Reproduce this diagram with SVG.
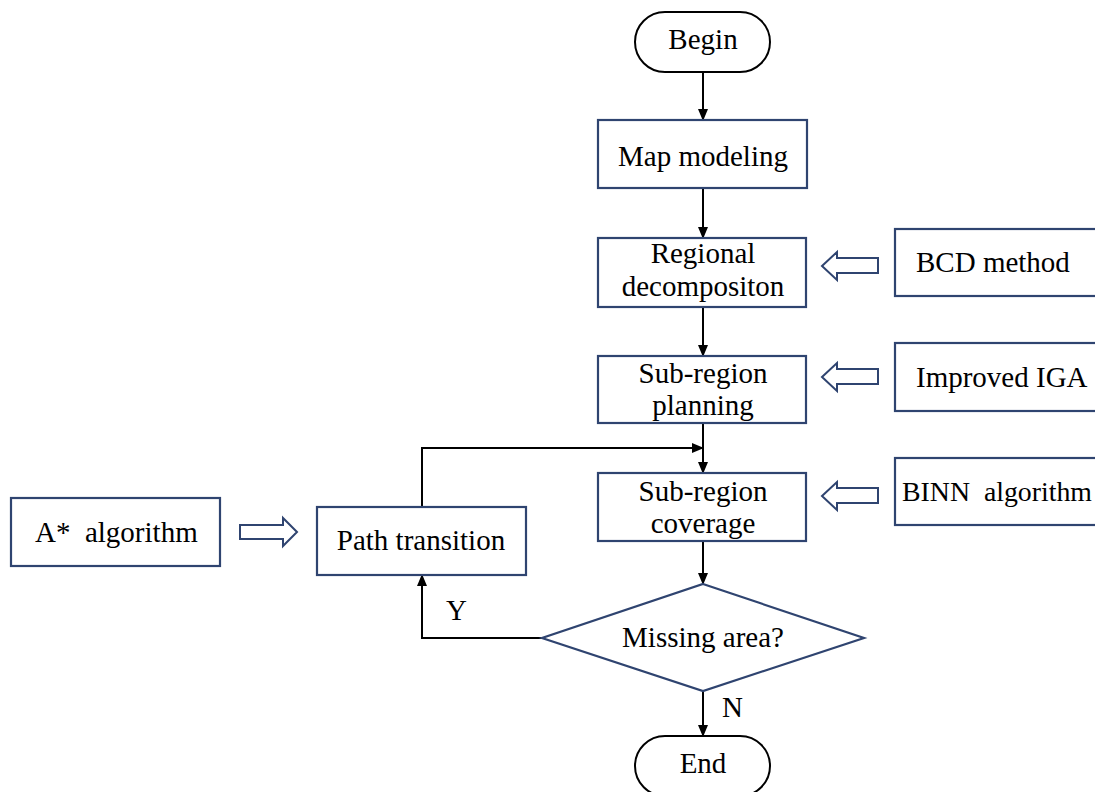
<svg xmlns="http://www.w3.org/2000/svg" width="1095" height="792" viewBox="0 0 1095 792">
<defs>
<marker id="ah" markerWidth="12" markerHeight="12" viewBox="0 0 12 12" refX="11" refY="6" orient="auto" markerUnits="userSpaceOnUse">
<path d="M0,1 L12,6 L0,11 Z" fill="#000"/>
</marker>
</defs>
<style>
.box{fill:#fff;stroke:#2f4470;stroke-width:2.2}
.term{fill:#fff;stroke:#000;stroke-width:2}
.hol{fill:#fff;stroke:#2f4470;stroke-width:2}
.con{fill:none;stroke:#000;stroke-width:2;marker-end:url(#ah)}
.t{font-family:"Liberation Serif","Times New Roman",serif;font-size:29px;fill:#000}
.c{text-anchor:middle}
</style>
<rect width="1095" height="792" fill="#fff"/>
<g id="connectors">
<path class="con" d="M703,72 V120"/>
<path class="con" d="M703,188 V238"/>
<path class="con" d="M703,307 V356"/>
<path class="con" d="M703,423 V473"/>
<path class="con" d="M422,507 V448 H703"/>
<path class="con" d="M703,541 V584"/>
<path class="con" d="M542,638 H422 V575"/>
<path class="con" d="M703,691 V736"/>
<text class="t" x="446" y="620">Y</text>
<text class="t" x="722" y="717">N</text>
</g>
<g id="begin">
<rect class="term" x="635" y="12" width="135" height="60" rx="30"/>
<text class="t c" x="703" y="49">Begin</text>
</g>
<g id="map">
<rect class="box" x="598" y="120" width="209" height="68"/>
<text class="t c" x="703" y="166">Map modeling</text>
</g>
<g id="regional">
<rect class="box" x="598" y="238" width="208" height="69"/>
<text class="t c" x="703" y="263">Regional</text>
<text class="t c" x="703" y="296">decompositon</text>
</g>
<g id="planning">
<rect class="box" x="598" y="356" width="208" height="67"/>
<text class="t c" x="703" y="383">Sub-region</text>
<text class="t c" x="703" y="415">planning</text>
</g>
<g id="coverage">
<rect class="box" x="598" y="473" width="208" height="68"/>
<text class="t c" x="703" y="501">Sub-region</text>
<text class="t c" x="703" y="533">coverage</text>
</g>
<g id="decision">
<polygon class="box" points="703,584 864,638 703,691 542,638"/>
<text class="t c" x="703" y="647">Missing area?</text>
</g>
<g id="end">
<rect class="term" x="635" y="736" width="135" height="60" rx="30"/>
<text class="t c" x="703" y="773">End</text>
</g>
<g id="bcd">
<rect class="box" x="895" y="229" width="210" height="67"/>
<text class="t" x="916" y="272">BCD method</text>
</g>
<g id="iga">
<rect class="box" x="895" y="343" width="210" height="68"/>
<text class="t" x="916" y="387">Improved IGA</text>
</g>
<g id="binn">
<rect class="box" x="895" y="458" width="210" height="67"/>
<text class="t" x="902" y="501" style="font-size:28px" textLength="190" lengthAdjust="spacingAndGlyphs" xml:space="preserve">BINN  algorithm</text>
</g>
<g id="transition">
<rect class="box" x="317" y="507" width="209" height="68"/>
<text class="t c" x="421" y="550">Path transition</text>
</g>
<g id="astar">
<rect class="box" x="11" y="498" width="209" height="68"/>
<text class="t" x="35" y="542" xml:space="preserve">A*  algorithm</text>
</g>
<g id="hollow-arrows">
<path class="hol" d="M822,266 L837,252 V258 H878 V273 H837 V280 Z"/>
<path class="hol" d="M822,377 L837,363 V369 H878 V384 H837 V391 Z"/>
<path class="hol" d="M822,496 L837,482 V488 H878 V503 H837 V510 Z"/>
<path class="hol" d="M297,532 L283,518 V525 H240 V539 H283 V546 Z"/>
</g>
</svg>
